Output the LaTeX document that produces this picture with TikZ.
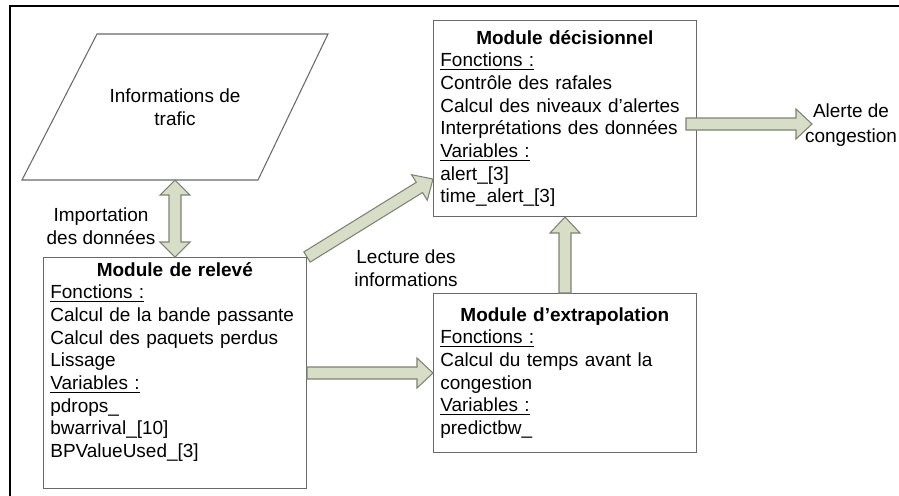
\documentclass[tikz,border=0pt]{standalone}
\usepackage{fontspec}
\setmainfont{Liberation Sans}
\usetikzlibrary{calc}

\definecolor{boxgray}{RGB}{105,105,105}
\definecolor{arrowfill}{RGB}{216,221,199}
\definecolor{arrowline}{RGB}{125,130,115}

\tikzset{
  modbox/.style={draw=boxgray, line width=0.6pt, fill=white, inner sep=0pt, anchor=north west, minimum width=5.26cm},
  modtext/.style={inner sep=0pt, anchor=north west, text width=4.98cm, font=\fontsize{10.8}{12.9}\selectfont},
  plain/.style={align=center, inner sep=0pt, font=\fontsize{10.8}{12.9}\selectfont},
  blockarrow/.style={fill=arrowfill, draw=arrowline, line width=0.6pt, line join=miter},
}

% fleche pleine de #1 vers #2
\newcommand{\blockarrow}[2]{%
  \coordinate (h) at ($(#2)!0.32cm!(#1)$);
  \filldraw[blockarrow] ($(#1)!0.12cm!90:(#2)$) -- ($(h)!0.12cm!-90:(#1)$) -- ($(h)!0.3cm!-90:(#1)$) -- (#2)
    -- ($(h)!0.3cm!90:(#1)$) -- ($(h)!0.12cm!90:(#1)$) -- ($(#1)!0.12cm!-90:(#2)$) -- cycle;}
% fleche pleine a deux pointes
\newcommand{\blockarrows}[2]{%
  \coordinate (h1) at ($(#1)!0.3cm!(#2)$);
  \coordinate (h2) at ($(#2)!0.3cm!(#1)$);
  \filldraw[blockarrow] (#1) -- ($(h1)!0.3cm!90:(#2)$) -- ($(h1)!0.12cm!90:(#2)$) -- ($(h2)!0.12cm!-90:(#1)$)
    -- ($(h2)!0.3cm!-90:(#1)$) -- (#2) -- ($(h2)!0.3cm!90:(#1)$) -- ($(h2)!0.12cm!90:(#1)$)
    -- ($(h1)!0.12cm!-90:(#2)$) -- ($(h1)!0.3cm!-90:(#2)$) -- cycle;}

\begin{document}
\begin{tikzpicture}[x=0.02cm, y=-0.02cm]
    \useasboundingbox (0,0) rectangle (899,495);
    \draw[line width=1.3pt] (10,500) -- (10,6) -- (905,6);

    % informations de trafic
    \draw[boxgray, line width=0.6pt] (97,34) -- (328,34) -- (258,180) -- (22,180) -- cycle;
    \node[plain] (trafic) at (175,107) {Informations de\\trafic};
    \coordinate (traficbas) at (175,180);

    % modules
    \node[modbox, minimum height=4.62cm] (releve) at (43,257) {};
    \node[modbox, minimum height=3.92cm] (decision) at (433,20) {};
    \node[modbox, minimum height=3.18cm] (extrap) at (433,293) {};

    \node[modtext] (releveT) at ($(releve.north west)+(7,5)$) {\centering\textbf{Module de relevé}\par\raggedright
        \underline{Fonctions :}\\
        Calcul de la bande passante\\
        Calcul des paquets perdus\\
        Lissage\\
        \underline{Variables :}\\
        pdrops\_\\
        bwarrival\_[10]\\
        BPValueUsed\_[3]};
    \node[modtext] (decisionT) at ($(decision.north west)+(7,10)$) {\centering\textbf{Module décisionnel}\par\raggedright
        \underline{Fonctions :}\\
        Contrôle des rafales\\
        Calcul des niveaux d’alertes\\
        Interprétations des données\\
        \underline{Variables :}\\
        alert\_[3]\\
        time\_alert\_[3]};
    \node[modtext] (extrapT) at ($(extrap.north west)+(7,14)$) {\centering\textbf{Module d’extrapolation}\par\raggedright
        \underline{Fonctions :}\\
        Calcul du temps avant la\\
        congestion\\
        \underline{Variables :}\\
        predictbw\_};

    % fleches
    \coordinate (lecture) at ($(decision.south west)+(0,-38)$);
    \coordinate (alertdep) at (686,124);
    \coordinate (alertfin) at (812,124);
    \blockarrows{traficbas}{releve.north}
    \blockarrow{releve.north east}{lecture}
    \blockarrow{releve.east}{extrap.west}
    \blockarrow{extrap.north}{decision.south}
    \blockarrow{alertdep}{alertfin}

    \node[plain] (import) at (101,226) {Importation\\des données};
    \node[plain] (lectureT) at (406,268) {Lecture des\\informations};
    \node[plain, font=\fontsize{10.8}{14.2}\selectfont] (alerte) at (851,125) {Alerte de\\congestion};
\end{tikzpicture}
\end{document}
